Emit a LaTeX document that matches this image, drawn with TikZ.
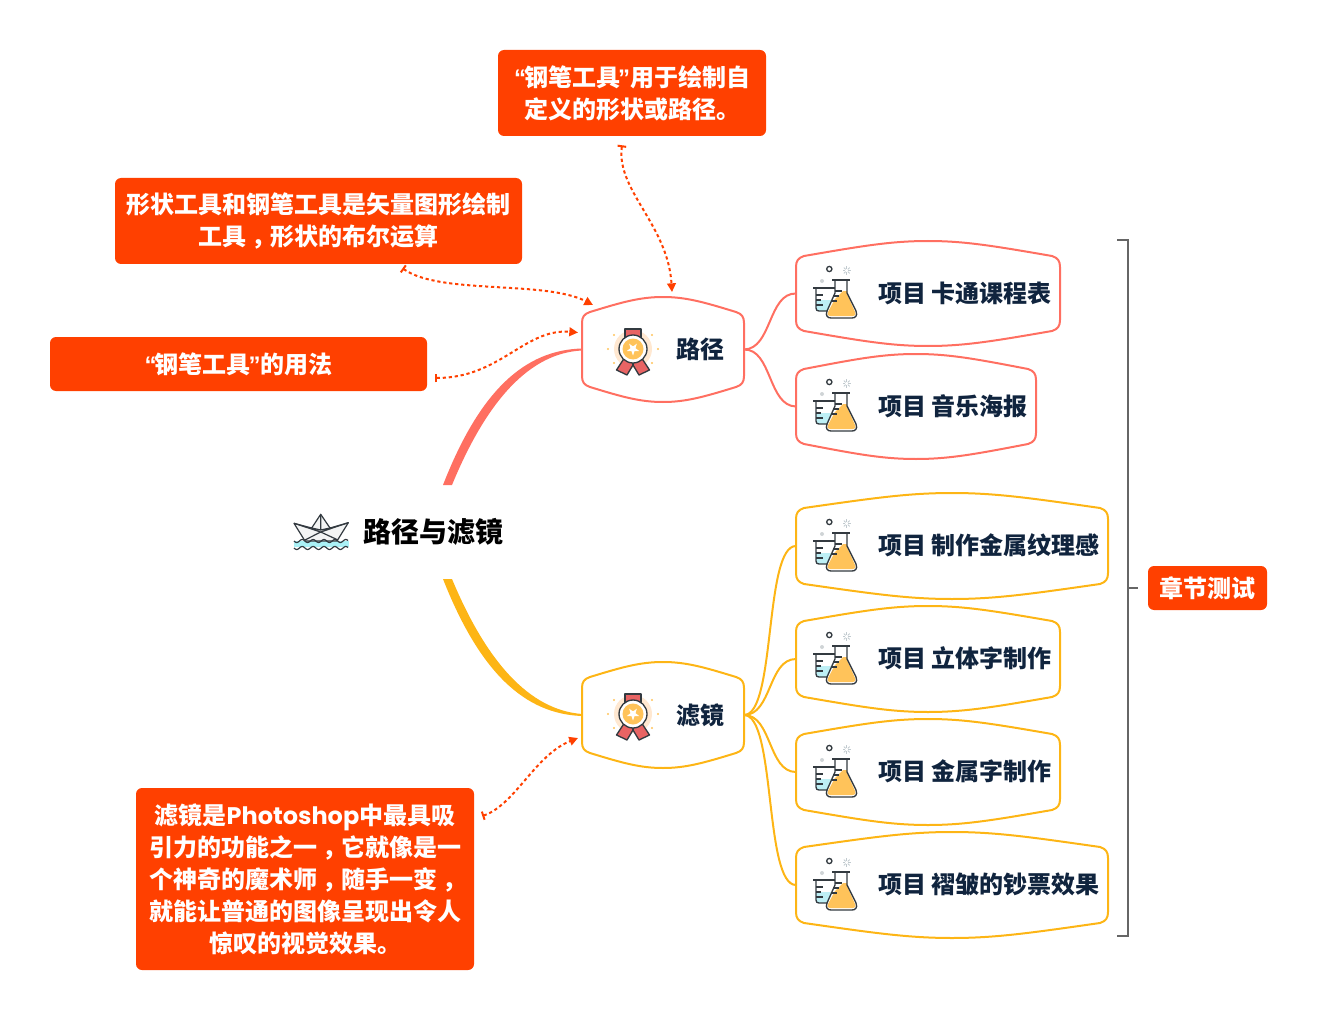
\documentclass[tikz,border=0pt]{standalone}
\usepackage{fontspec}
\setmainfont{Noto Sans CJK SC}
\newfontfamily\latq{Liberation Sans}
\newfontfamily\popf{Poppins}
\usetikzlibrary{arrows.meta,calc}
\definecolor{calloutc}{HTML}{FF4000}
\definecolor{redc}{HTML}{FF6F61}
\definecolor{yelc}{HTML}{FDB515}
\definecolor{navyc}{HTML}{10243E}
\definecolor{darkc}{HTML}{333A40}
\definecolor{orangec}{HTML}{FFC35A}
\definecolor{ribc}{HTML}{E86464}
\definecolor{bluec}{HTML}{BDEFF5}
\definecolor{greyc}{HTML}{666666}
\newcommand\lqt{{\latq\bfseries “}\kern-1.5pt}
\newcommand\rqt{\kern-1.5pt{\latq\bfseries ”}}
\newcommand\cmm{\kern.22em，\kern-.22em}
\tikzset{
  callout/.style={fill=calloutc,rounded corners=4.5pt,inner sep=0pt,text=white,font=\fontsize{18pt}{24pt}\selectfont\bfseries,align=center},
  link/.style={calloutc,line width=1.5pt,dash pattern=on 2.4pt off 2.1pt,{Bar[width=6.5pt,length=1.2pt,sep=0pt]}-{Triangle[length=6.5pt,width=6.5pt]}},
  topic/.style={text=navyc,font=\fontsize{18pt}{24pt}\selectfont\bfseries,inner sep=0pt},
  branch/.style={line width=1.5pt},
  ghost/.style={inner sep=0pt,outer sep=0pt},
  ink/.style={draw=darkc,line width=1pt,line join=round},
  brace/.style={greyc,line width=1.3pt}
}
% name, left, top, right, bottom, colour
\newcommand\bulgebox[6]{%
  \pgfmathsetmacro\bw{(#4-#2)}\pgfmathsetmacro\bh{(#5-#3)}%
  \pgfmathsetmacro\bmx{(#2+#4)/2}\pgfmathsetmacro\bmy{(#3+#5)/2}%
  \node[ghost,minimum width=\bw*0.75pt,minimum height=\bh*0.75pt] (#1) at (\bmx,\bmy) {};
  \draw[#6,branch,line join=round] (#2,{#3+26}) .. controls (#2,{#3+20}) and ({#2+2},{#3+17}) .. ({#2+8},{#3+15})
    .. controls ({#2+0.25*\bw},{#3+5}) and ({#2+0.36*\bw},#3) .. (\bmx,#3)
    .. controls ({#4-0.36*\bw},#3) and ({#4-0.25*\bw},{#3+5}) .. ({#4-8},{#3+15})
    .. controls ({#4-2},{#3+17}) and (#4,{#3+20}) .. (#4,{#3+26})
    -- (#4,{#5-26}) .. controls (#4,{#5-20}) and ({#4-2},{#5-17}) .. ({#4-8},{#5-15})
    .. controls ({#4-0.25*\bw},{#5-5}) and ({#4-0.36*\bw},#5) .. (\bmx,#5)
    .. controls ({#2+0.36*\bw},#5) and ({#2+0.25*\bw},{#5-5}) .. ({#2+8},{#5-15})
    .. controls ({#2+2},{#5-17}) and (#2,{#5-20}) .. (#2,{#5-26}) -- cycle;
}
% flask icon; arguments x, y of box left and centre line
\newcommand\flaskicon[2]{%
  \begin{scope}[shift={(#1,#2)}]
    \fill[bluec] (20,7) rectangle (40,18);
    \draw[ink] (17,-5) -- (41,-5);
    \draw[ink] (20,-5) -- (20,15) .. controls (20,17) and (21,18) .. (23,18) -- (34,18);
    \draw[ink] (20,2) -- (27,2) (20,7) -- (25,7) (20,12) -- (27,12);
    \fill[white] (39,-13) -- (51,-13) -- (51,1) -- (60,20) -- (60,25) -- (31,25) -- (31,20) -- (39,1) -- cycle;
    \fill[orangec] (47,-2) -- (51,-2) -- (51,1) -- (59,19) .. controls (60,22) and (59,23) .. (57,23) -- (34,23) .. controls (32,23) and (31,22) .. (32,19) -- (39,6) -- cycle;
    \draw[ink] (36,-13) -- (54,-13);
    \draw[ink] (39,-13) -- (39,0) -- (31,18) .. controls (29,23) and (32,25) .. (35,25) -- (56,25) .. controls (59,25) and (62,23) .. (60,18) -- (51,0) -- (51,-13);
    \draw[ink] (39,-2) -- (46,-2) (37,3) -- (43,3) (35,8) -- (41,8);
    \draw[darkc,line width=1pt] (33.3,-24) circle (2.6);
    \fill[cyan!10!gray!40] (26,-12) circle (2);
    \foreach \a in {0,45,...,315} \draw[cyan!15!gray!50,line width=.6pt] (50.7,-22.5) ++(\a:1.5) -- ++(\a:2.6);
  \end{scope}
}
\newcommand\medalicon[2]{%
  \begin{scope}[shift={(#1,#2)}]
    \fill[orange!18] (0,0) circle (19);
    \foreach \p/\q in {-19/-14,19/-14,-19/14,19/14,-25/0,25/0}
      \fill[orangec] (\p,\q) circle (1.2);
    \draw[ink,fill=ribc] (-8,-20) rectangle (8,-8);
    \draw[ink,fill=ribc] (-8,8) -- (-16.5,21) -- (-6,26) -- (0,16) -- (6,26) -- (16.5,21) -- (8,8) -- cycle;
    \draw[ink,line width=.9pt] (0,16) -- (0,10);
    \draw[ink,fill=white] (0,0) circle (14);
    \fill[orangec] (0,0) circle (10.5);
    \fill[white] (90:6.5) -- (126:2.6) -- (162:6.5) -- (198:2.6) -- (234:6.5) -- (270:2.6) -- (306:6.5) -- (342:2.6) -- (18:6.5) -- (54:2.6) -- cycle;
  \end{scope}
}
\begin{document}
\begin{tikzpicture}[x=0.75pt,y=-0.75pt]
\useasboundingbox (0,0) rectangle (1318,1020);

% centre
\node[ghost,minimum width=168.75pt,minimum height=70.5pt] (root) at (398,532) {};
\node[inner sep=0pt,font=\fontsize{21pt}{24pt}\selectfont\bfseries,text=black,anchor=west] (rootlabel) at (363,532) {路径与滤镜};

% first-level nodes
\bulgebox{lujing}{582}{297}{744}{402}{redc}
\bulgebox{lvjing}{582}{662}{744}{768}{yelc}
\node[topic] (lujingt) at (700,349) {路径};
\node[topic] (lvjingt) at (700,715) {滤镜};
\medalicon{633}{349}
\medalicon{633}{714}

% second-level nodes
\bulgebox{pa}{796}{241}{1060}{346}{redc}
\bulgebox{pb}{796}{354}{1036}{459}{redc}
\bulgebox{qa}{796}{493}{1108}{599}{yelc}
\bulgebox{qb}{796}{606}{1060}{712}{yelc}
\bulgebox{qc}{796}{719}{1060}{825}{yelc}
\bulgebox{qd}{796}{832}{1108}{938}{yelc}
\flaskicon{796}{293}
\flaskicon{796}{406}
\flaskicon{796}{546}
\flaskicon{796}{659}
\flaskicon{796}{772}
\flaskicon{796}{885}
\node[topic,anchor=west] (pat) at (878,293) {项目 卡通课程表};
\node[topic,anchor=west] (pbt) at (878,406) {项目 音乐海报};
\node[topic,anchor=west] (qat) at (878,545) {项目 制作金属纹理感};
\node[topic,anchor=west] (qbt) at (878,658) {项目 立体字制作};
\node[topic,anchor=west] (qct) at (878,771) {项目 金属字制作};
\node[topic,anchor=west] (qdt) at (878,884.5) {项目 褶皱的钞票效果};

% thick tapered branches
\fill[redc] ($(root.north)+(45,0)$) .. controls (480,390) and (525,350) .. ($(lujing.west)+(0,-1)$)
  -- ($(lujing.west)+(0,1)$) .. controls (530,353) and (487,400) .. ($(root.north)+(54,0)$) -- cycle;
\fill[yelc] ($(root.south)+(45,0)$) .. controls (480,673) and (525,714) .. ($(lvjing.west)+(0,1)$)
  -- ($(lvjing.west)+(0,-1)$) .. controls (530,710) and (487,663) .. ($(root.south)+(54,0)$) -- cycle;

% thin branches
\draw[redc,branch] (lujing.east) .. controls (772,349) and (768,293) .. (pa.west);
\draw[redc,branch] (lujing.east) .. controls (772,349) and (768,406) .. (pb.west);
\draw[yelc,branch] (lvjing.east) .. controls (776,715) and (764,546) .. (qa.west);
\draw[yelc,branch] (lvjing.east) .. controls (772,715) and (768,659) .. (qb.west);
\draw[yelc,branch] (lvjing.east) .. controls (772,715) and (768,772) .. (qc.west);
\draw[yelc,branch] (lvjing.east) .. controls (776,715) and (764,885) .. (qd.west);

% callouts
\node[callout,minimum width=201pt,minimum height=64.5pt] (ca) at (632,93) {\lqt 钢笔工具\rqt 用于绘制自\\ 定义的形状或路径。};
\node[callout,minimum width=305.25pt,minimum height=64.5pt] (cb) at (318.5,221) {\raisebox{-.7pt}{形状工具和钢笔工具是矢量图形绘制}\\\raisebox{-.7pt}{工具\cmm 形状的布尔运算}};
\node[callout,minimum width=282.75pt,minimum height=40.5pt] (cc) at (238.5,364) {\lqt 钢笔工具\rqt 的用法};
\node[callout,minimum width=253.5pt,minimum height=136.5pt] (cd) at (305,879) {滤镜是{\popf Photoshop}中最具吸\\引力的功能之一\cmm 它就像是一\\个神奇的魔术师\cmm 随手一变\cmm\\就能让普通的图像呈现出令人\\惊叹的视觉效果。};

% dotted links
\coordinate (la) at ($(ca.south)+(-10,9)$);
\coordinate (lb) at ($(cb.south)+(84,4)$);
\coordinate (lc) at ($(cc.east)+(8,14)$);
\coordinate (ld) at ($(cd.east)+(8,-63)$);
\coordinate (ta) at ($(lujing.north)+(9,-5)$);
\coordinate (tb) at ($(lujing.north)+(-70,8)$);
\coordinate (tc) at ($(lujing.west)+(-4,-17)$);
\coordinate (td) at ($(lvjing.west)+(-4,23)$);
\draw[link] (la) .. controls (616,190) and (668,225) .. (ta);
\draw[link] (lb) .. controls (440,295) and (545,280) .. (tb);
\draw[link] (lc) .. controls (500,378) and (525,328) .. (tc);
\draw[link] (ld) .. controls (515,805) and (535,755) .. (td);

% bracket
\node[callout,minimum width=89.25pt,minimum height=33pt] (test) at (1207.5,588) {章节测试};
\coordinate (bt) at (1117,240);
\coordinate (bb) at (1117,936);
\coordinate (tick) at ($(test.west)+(-10,0)$);
\draw[brace] (bt) -- (1128,240) -- (1128,936) -- (bb);
\draw[brace] (1128,588) -- (tick);

% boat icon
\begin{scope}
  \fill[bluec!90!cyan] (294,540.5) rectangle (348.5,547);
  \draw[ink,fill=cyan!6!gray!10,line width=.9pt] (320.7,514.3) -- (330,528) -- (348.3,522.7) -- (337,541) -- (305,541) -- (294,523.3) -- (311.7,528) -- cycle;
  \draw[ink,line width=.9pt] (320.7,514.3) -- (320.7,530) (311.7,528) -- (320.7,530) -- (330,528) (294,523.3) -- (320.7,532) -- (338,540) (348.3,522.7) -- (320.7,532) -- (305,540);
  \fill[bluec!90!cyan] (296,541.5) rectangle (346,547);
  \draw[darkc,line width=.9pt] plot[domain=294:348,samples=60,smooth] (\x,{541+1.5*sin((\x-294)*33)});
  \draw[darkc,line width=.9pt] plot[domain=294:348,samples=60,smooth] (\x,{548+1.5*sin((\x-294)*33)});
\end{scope}
\end{tikzpicture}
\end{document}
